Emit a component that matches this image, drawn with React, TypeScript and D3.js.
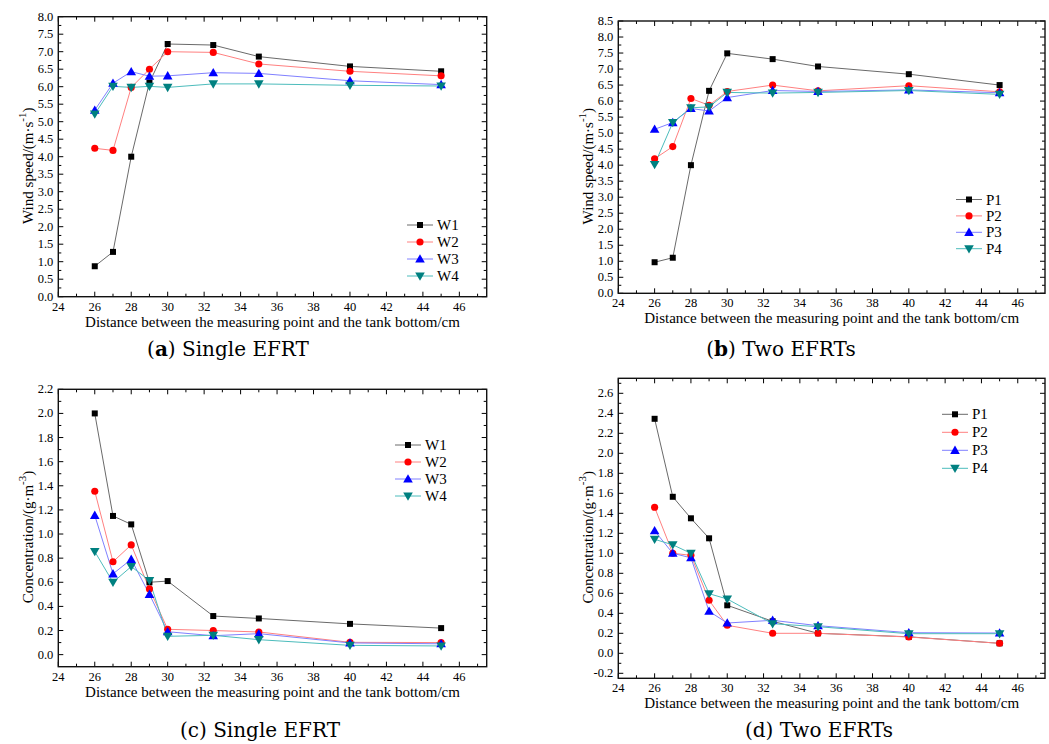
import React from "react";
import * as d3 from "d3";

const distances = [26, 27, 28, 29, 30, 32.5, 35, 40, 45];

// (a) Single EFRT wind speed
const aW1 = [0.87, 1.28, 4.0, 6.12, 7.22, 7.19, 6.86, 6.58, 6.44];
const aW2 = [4.24, 4.18, 5.98, 6.5, 7.0, 6.98, 6.65, 6.44, 6.31];
const aW3 = [5.33, 6.1, 6.43, 6.3, 6.31, 6.4, 6.38, 6.17, 6.06];
const aW4 = [5.22, 6.01, 5.98, 6.01, 5.98, 6.08, 6.08, 6.04, 6.02];

// (b) Two EFRTs wind speed
const bP1 = [0.97, 1.11, 4.0, 6.32, 7.49, 7.31, 7.08, 6.84, 6.5];
const bP2 = [4.2, 4.58, 6.08, 5.87, 6.3, 6.5, 6.32, 6.48, 6.29];
const bP3 = [5.12, 5.33, 5.77, 5.69, 6.11, 6.33, 6.3, 6.35, 6.26];
const bP4 = [4.02, 5.33, 5.79, 5.82, 6.27, 6.25, 6.27, 6.33, 6.21];

// (c) Single EFRT concentration
const cW1 = [2.0, 1.15, 1.08, 0.6, 0.61, 0.32, 0.3, 0.255, 0.22];
const cW2 = [1.355, 0.77, 0.91, 0.545, 0.21, 0.2, 0.188, 0.102, 0.1];
const cW3 = [1.155, 0.67, 0.79, 0.5, 0.19, 0.157, 0.174, 0.097, 0.09];
const cW4 = [0.855, 0.6, 0.73, 0.615, 0.152, 0.16, 0.124, 0.077, 0.072];

// (d) Two EFRTs concentration
const dP1 = [2.345, 1.565, 1.35, 1.15, 0.48, 0.32, 0.2, 0.165, 0.1];
const dP2 = [1.46, 1.0, 0.98, 0.53, 0.28, 0.2, 0.2, 0.163, 0.1];
const dP3 = [1.225, 1.0, 0.955, 0.42, 0.303, 0.33, 0.276, 0.206, 0.203];
const dP4 = [1.14, 1.085, 1.0, 0.596, 0.543, 0.296, 0.266, 0.196, 0.196];

const wNames = ["W1", "W2", "W3", "W4"];
const pNames = ["P1", "P2", "P3", "P4"];

const xTickValues = [24, 26, 28, 30, 32, 34, 36, 38, 40, 42, 44, 46];
const xMinorValues = [25, 27, 29, 31, 33, 35, 37, 39, 41, 43, 45, 47];

const colors = ["#000000", "#ff0000", "#0000ff", "#008080"];
const lineColors = ["#6a6a6a", "#ff8080", "#8080ff", "#4cbcbc"];
const shapes = ["square", "circle", "up", "down"];

const FONT = "'Liberation Serif', 'Times New Roman', serif";

function markerPath(shape: string) {
  if (shape === "square") return d3.symbol(d3.symbolSquare, 36)();
  if (shape === "circle") return d3.symbol(d3.symbolCircle, 40)();
  return d3.symbol(d3.symbolTriangle, 40)();
}

function Marker({ x, y, i }: { x: number; y: number; i: number }) {
  const shape = shapes[i];
  const rot = shape === "down" ? " rotate(180)" : "";
  const dy = shape === "up" ? 0.8 : shape === "down" ? -0.8 : 0;
  return (
    <path
      d={markerPath(shape) || ""}
      transform={`translate(${x},${y + dy})${rot}`}
      fill={colors[i]}
    />
  );
}

type PanelProps = {
  left: number;
  right: number;
  top: number;
  bottom: number;
  yDomain: [number, number];
  yMajor: number[];
  yMinor: number[];
  series: number[][];
  names: string[];
  legendX: number;
  legendY: number;
  legendGap: number;
  yTitle: React.ReactNode;
  caption: React.ReactNode;
  captionX: number;
  captionY: number;
};

function Panel(p: PanelProps) {
  const x = d3.scaleLinear().domain([24, 47.5]).range([p.left, p.right]);
  const y = d3.scaleLinear().domain(p.yDomain).range([p.bottom, p.top]);
  const line = d3
    .line<number>()
    .x((_, i) => x(distances[i]))
    .y((v) => y(v));
  const major = 5;
  const minor = 3;
  return (
    <g>
      {/* ticks */}
      {xTickValues.map((t) => (
        <g key={"xt" + t}>
          <line x1={x(t)} x2={x(t)} y1={p.bottom} y2={p.bottom - major} stroke="#000" strokeWidth={1} />
          <line x1={x(t)} x2={x(t)} y1={p.top} y2={p.top + major} stroke="#000" strokeWidth={1} />
          <text x={x(t)} y={p.bottom + 14} textAnchor="middle" fontSize={12.5} fontFamily={FONT}>
            {t}
          </text>
        </g>
      ))}
      {xMinorValues.map((t) => (
        <g key={"xm" + t}>
          <line x1={x(t)} x2={x(t)} y1={p.bottom} y2={p.bottom - minor} stroke="#000" strokeWidth={1} />
          <line x1={x(t)} x2={x(t)} y1={p.top} y2={p.top + minor} stroke="#000" strokeWidth={1} />
        </g>
      ))}
      {p.yMajor.map((t) => (
        <g key={"yt" + t}>
          <line x1={p.left} x2={p.left + major} y1={y(t)} y2={y(t)} stroke="#000" strokeWidth={1} />
          <line x1={p.right} x2={p.right - major} y1={y(t)} y2={y(t)} stroke="#000" strokeWidth={1} />
          <text x={p.left - 5} y={y(t) + 4} textAnchor="end" fontSize={12.5} fontFamily={FONT}>
            {t.toFixed(1)}
          </text>
        </g>
      ))}
      {p.yMinor.map((t) => (
        <g key={"ym" + t}>
          <line x1={p.left} x2={p.left + minor} y1={y(t)} y2={y(t)} stroke="#000" strokeWidth={1} />
          <line x1={p.right} x2={p.right - minor} y1={y(t)} y2={y(t)} stroke="#000" strokeWidth={1} />
        </g>
      ))}
      {/* series */}
      {p.series.map((s, i) => (
        <path key={"l" + i} d={line(s) || ""} fill="none" stroke={lineColors[i]} strokeWidth={1} />
      ))}
      {p.series.map((s, i) =>
        s.map((v, j) => <Marker key={`m${i}-${j}`} x={x(distances[j])} y={y(v)} i={i} />)
      )}
      {/* frame */}
      <rect
        x={p.left}
        y={p.top}
        width={p.right - p.left}
        height={p.bottom - p.top}
        fill="none"
        stroke="#111"
        strokeWidth={1.4}
      />
      {/* legend */}
      {p.names.map((n, i) => {
        const ly = p.legendY + i * p.legendGap;
        return (
          <g key={"lg" + n}>
            <line x1={p.legendX} x2={p.legendX + 26} y1={ly} y2={ly} stroke={lineColors[i]} strokeWidth={1} />
            <Marker x={p.legendX + 13} y={ly} i={i} />
            <text x={p.legendX + 30} y={ly + 5} fontSize={15} fontFamily={FONT}>
              {n}
            </text>
          </g>
        );
      })}
      {/* axis titles */}
      <text
        x={(p.left + p.right) / 2}
        y={p.bottom + 30}
        textAnchor="middle"
        fontSize={15}
        fontFamily={FONT}
      >
        Distance between the measuring point and the tank bottom/cm
      </text>
      <text
        transform={`translate(${p.left - 25},${(p.top + p.bottom) / 2 + 9}) rotate(-90)`}
        textAnchor="middle"
        fontSize={15}
        fontFamily={FONT}
      >
        {p.yTitle}
      </text>
      <text x={p.captionX} y={p.captionY} textAnchor="middle" fontSize={20} fontFamily="'DejaVu Serif', serif">
        {p.caption}
      </text>
    </g>
  );
}

function range(start: number, stop: number, step: number) {
  const out: number[] = [];
  const n = Math.round((stop - start) / step);
  for (let i = 0; i <= n; i++) out.push(+(start + i * step).toFixed(3));
  return out;
}

export default function App() {
  const windTitle = (
    <>
      Wind speed/(m·s
      <tspan dy={-7} fontSize={11}>
        -1
      </tspan>
      <tspan dy={7}>)</tspan>
    </>
  );
  const concTitle = (
    <>
      Concentration/(g·m
      <tspan dy={-7} fontSize={11}>
        -3
      </tspan>
      <tspan dy={7}>)</tspan>
    </>
  );
  return (
    <svg
      width={1049}
      height={744}
      style={{ position: "absolute", left: 0, top: 0, background: "#fff" }}
    >
      <Panel
        left={58.3}
        right={486.7}
        top={16.7}
        bottom={296.7}
        yDomain={[0, 8]}
        yMajor={range(0, 8, 0.5)}
        yMinor={range(0.25, 7.75, 0.5)}
        series={[aW1, aW2, aW3, aW4]}
        names={wNames}
        legendX={407}
        legendY={225}
        legendGap={17}
        yTitle={windTitle}
        caption={
          <>
            (<tspan fontWeight="bold">a</tspan>) Single EFRT
          </>
        }
        captionX={228}
        captionY={356}
      />
      <Panel
        left={618.3}
        right={1045}
        top={21}
        bottom={293.3}
        yDomain={[0, 8.5]}
        yMajor={range(0, 8.5, 0.5)}
        yMinor={range(0.25, 8.25, 0.5)}
        series={[bP1, bP2, bP3, bP4]}
        names={pNames}
        legendX={956}
        legendY={199.5}
        legendGap={16.4}
        yTitle={windTitle}
        caption={
          <>
            (<tspan fontWeight="bold">b</tspan>) Two EFRTs
          </>
        }
        captionX={781}
        captionY={356}
      />
      <Panel
        left={58.3}
        right={486.7}
        top={389.3}
        bottom={666.7}
        yDomain={[-0.1, 2.2]}
        yMajor={range(0, 2.2, 0.2)}
        yMinor={range(0.1, 2.1, 0.2)}
        series={[cW1, cW2, cW3, cW4]}
        names={wNames}
        legendX={395}
        legendY={445}
        legendGap={17}
        yTitle={concTitle}
        caption={<>(c) Single EFRT</>}
        captionX={260}
        captionY={737}
      />
      <Panel
        left={618.3}
        right={1045}
        top={378.3}
        bottom={678.3}
        yDomain={[-0.25, 2.75]}
        yMajor={range(-0.2, 2.6, 0.2)}
        yMinor={range(-0.1, 2.7, 0.2)}
        series={[dP1, dP2, dP3, dP4]}
        names={pNames}
        legendX={942}
        legendY={414.3}
        legendGap={18}
        yTitle={concTitle}
        caption={<>(d) Two EFRTs</>}
        captionX={819}
        captionY={737}
      />
    </svg>
  );
}
